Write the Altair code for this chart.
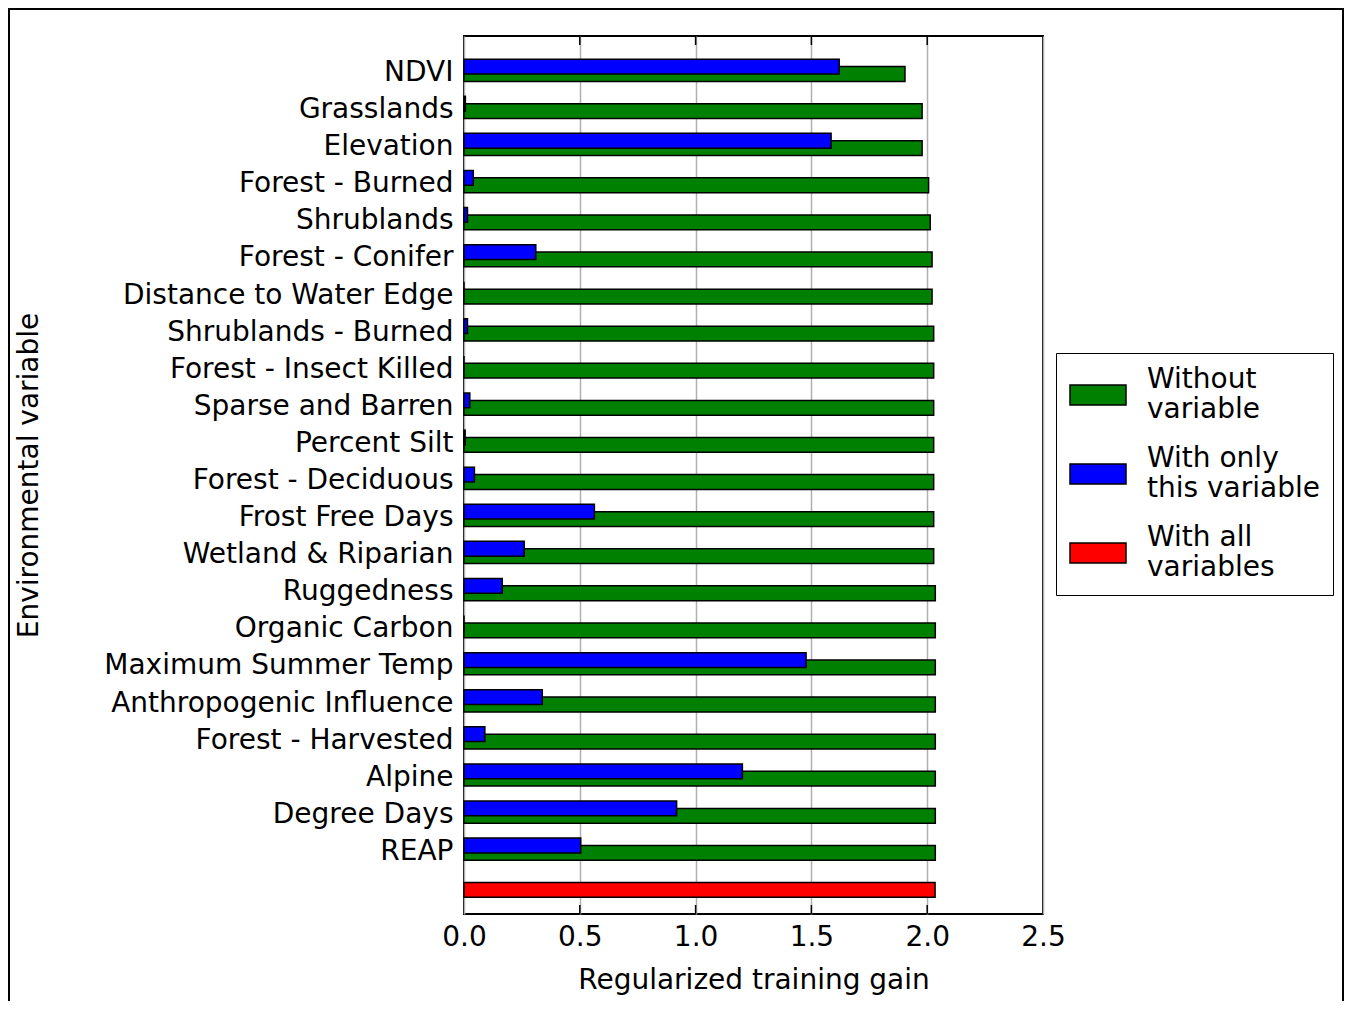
import altair as alt
import pandas as pd

categories = [
    "NDVI", "Grasslands", "Elevation", "Forest - Burned", "Shrublands",
    "Forest - Conifer", "Distance to Water Edge", "Shrublands - Burned",
    "Forest - Insect Killed", "Sparse and Barren", "Percent Silt",
    "Forest - Deciduous", "Frost Free Days", "Wetland & Riparian",
    "Ruggedness", "Organic Carbon", "Maximum Summer Temp",
    "Anthropogenic Influence", "Forest - Harvested", "Alpine",
    "Degree Days", "REAP",
]
without_variable = [
    1.904, 1.978, 1.978, 2.006, 2.013, 2.021, 2.021, 2.028, 2.028, 2.028,
    2.028, 2.028, 2.028, 2.028, 2.035, 2.035, 2.035, 2.035, 2.035, 2.035,
    2.035, 2.035,
]
with_only_variable = [
    1.620, 0.006, 1.585, 0.040, 0.015, 0.310, 0.0, 0.015, 0.0, 0.025,
    0.005, 0.045, 0.563, 0.260, 0.165, 0.0, 1.477, 0.338, 0.090, 1.202,
    0.918, 0.504,
]
all_variables_label = " "
with_all_variables = 2.034

series_names = ["Without|variable", "With only|this variable", "With all|variables"]
series_colors = ["#008000", "#0000ff", "#ff0000"]
tick_values = [0.0, 0.5, 1.0, 1.5, 2.0, 2.5]
inner_ticks = [0.5, 1.0, 1.5, 2.0]

rows = []
for c, g in zip(categories, without_variable):
    rows.append({"category": c, "series": series_names[0], "value": g})
for c, b in zip(categories, with_only_variable):
    rows.append({"category": c, "series": series_names[1], "value": b})
rows.append({"category": all_variables_label, "series": series_names[2], "value": with_all_variables})
df = pd.DataFrame(rows)

order = categories + [all_variables_label]
W, H = 579, 878
FONT = "DejaVu Sans"
FS = 28

xscale = alt.Scale(domain=[0, 2.5], nice=False, zero=True)
yscale = alt.Scale(domain=order, paddingInner=0, paddingOuter=0.336, align=0.78)
color = alt.Color(
    "series:N",
    scale=alt.Scale(domain=series_names, range=series_colors),
    legend=alt.Legend(
        title=None,
        orient="none",
        legendX=592,
        legendY=317,
        strokeColor="black",
        fillColor="white",
        padding=13,
        cornerRadius=0,
        symbolType="M-1,-0.357H1V0.357H-1Z",
        symbolSize=3136,
        symbolStrokeColor="black",
        symbolStrokeWidth=1.5,
        symbolOpacity=1,
        labelFont=FONT,
        labelFontSize=FS,
        labelColor="black",
        labelLimit=400,
        labelOffset=20,
        labelBaseline="line-bottom",
        labelExpr="split(datum.label, '|')",
        rowPadding=21,
    ),
)

base = alt.Chart(df)

green_red = base.transform_filter(
    alt.datum.series != series_names[1]
).mark_bar(size=14.8, stroke="black", strokeWidth=1.5).encode(
    x=alt.X(
        "value:Q",
        scale=xscale,
        axis=alt.Axis(
            values=tick_values,
            format=".1f",
            title="Regularized training gain",
            titleFont=FONT,
            titleFontSize=FS,
            titleFontWeight="normal",
            titleColor="black",
            titleY=74,
            titleBaseline="alphabetic",
            labelFont=FONT,
            labelFontSize=FS,
            labelColor="black",
            labelPadding=9,
            labelFlush=False,
            ticks=False,
            domain=False,
            grid=True,
            gridColor="#b0b0b0",
            gridWidth=1.5,
        ),
    ),
    y=alt.Y(
        "category:N",
        sort=order,
        scale=yscale,
        axis=alt.Axis(
            title="Environmental variable",
            titleFont=FONT,
            titleFontSize=FS,
            titleFontWeight="normal",
            titleColor="black",
            titleX=-435,
            titleY=H / 2,
            titleAngle=270,
            titleAlign="center",
            titleBaseline="middle",
            labelFont=FONT,
            labelFontSize=FS,
            labelColor="black",
            labelPadding=11,
            labelOffset=-1,
            labelLimit=500,
            ticks=False,
            domain=False,
            grid=False,
        ),
    ),
    color=color,
)

blue = base.transform_filter(
    alt.datum.series == series_names[1]
).mark_bar(size=14.8, stroke="black", strokeWidth=1.5, yOffset=-7.4).encode(
    x=alt.X("value:Q", scale=xscale),
    y=alt.Y("category:N", sort=order, scale=yscale),
    color=color,
)

tick_df = pd.DataFrame({"value": inner_ticks})
top_ticks = alt.Chart(tick_df).mark_rule(color="black", strokeWidth=1.5).encode(
    x=alt.X("value:Q", scale=xscale), y=alt.value(0), y2=alt.value(9)
)
bottom_ticks = alt.Chart(tick_df).mark_rule(color="black", strokeWidth=1.5).encode(
    x=alt.X("value:Q", scale=xscale), y=alt.value(H - 9), y2=alt.value(H)
)

frame = alt.Chart(pd.DataFrame({"a": [0]})).mark_rect(
    filled=False, stroke="black", strokeWidth=2
).encode(
    x=alt.value(-455), x2=alt.value(879), y=alt.value(-27), y2=alt.value(1000)
)

chart = alt.layer(green_red, blue, top_ticks, bottom_ticks, frame).properties(
    width=W,
    height=H,
    autosize=alt.AutoSizeParams(type="none"),
    padding={"left": 456, "top": 28, "right": 301, "bottom": 87},
    background="white",
).configure(font=FONT).configure_view(stroke="black", strokeWidth=2)

chart.save("out.html", embed_options={"renderer": "svg", "actions": False})
